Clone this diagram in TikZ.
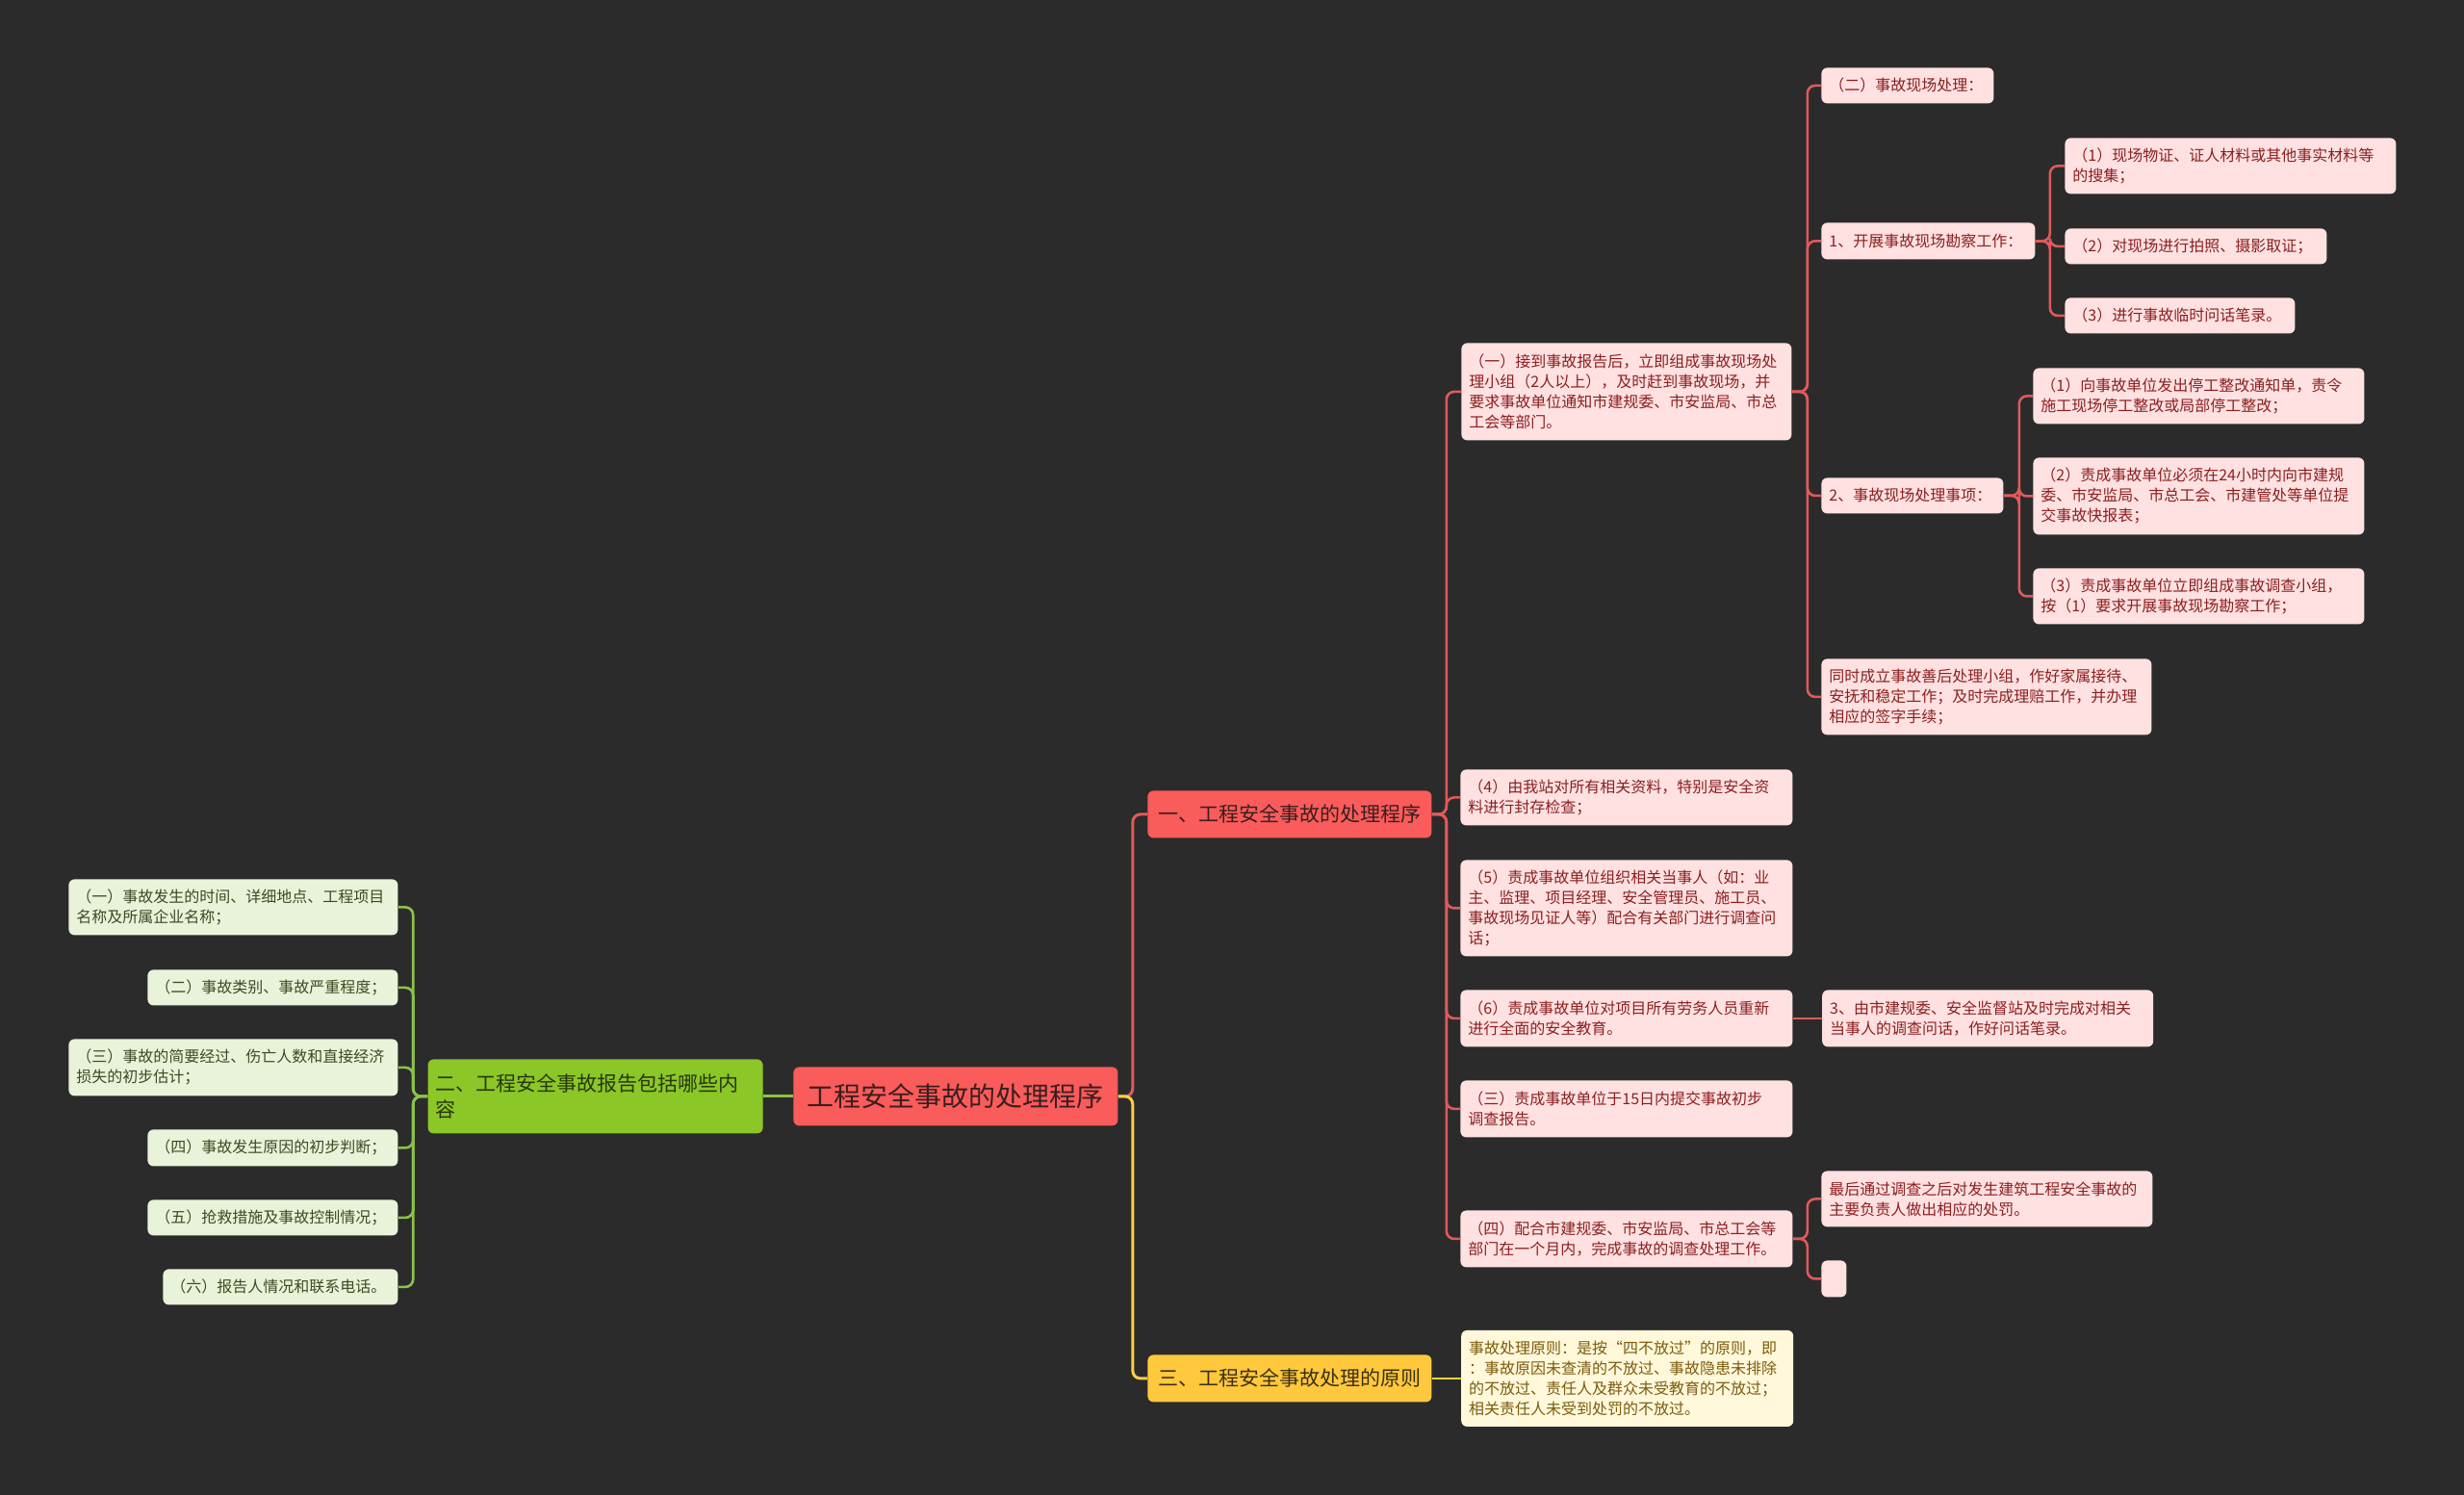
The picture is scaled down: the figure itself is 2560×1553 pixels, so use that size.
\documentclass[tikz,border=0pt]{standalone}
\usepackage{fontspec}
\setmainfont{Noto Sans CJK SC}
\usetikzlibrary{positioning}
\definecolor{bg}{HTML}{2B2B2B}
\definecolor{topred}{HTML}{FA5B5B}
\definecolor{topyellow}{HTML}{FFC83D}
\definecolor{topgreen}{HTML}{8BC727}
\definecolor{redtext}{HTML}{3A1E1E}
\definecolor{yellowtext}{HTML}{3B3012}
\definecolor{greentextdark}{HTML}{27360C}
\definecolor{pinkfill}{HTML}{FFE1E1}
\definecolor{pinktext}{HTML}{8C1F1F}
\definecolor{greenfill}{HTML}{E9F3D9}
\definecolor{greentext}{HTML}{3D4A22}
\definecolor{creamfill}{HTML}{FFF8DA}
\definecolor{creamtext}{HTML}{7D5B0C}
\definecolor{redline}{HTML}{E05A5A}
\definecolor{yellowline}{HTML}{F8CF4A}
\definecolor{greenline}{HTML}{8BC34A}
\begin{document}
\begin{tikzpicture}[x=0.5pt,y=-0.5pt, base/.style={rounded corners=3pt,inner xsep=4pt,inner ysep=2pt,anchor=north west,align=left}, leafr/.style={base,fill=pinkfill,text=pinktext,font=\fontsize{8}{10.5}\selectfont}, leafg/.style={base,fill=greenfill,text=greentext,font=\fontsize{8}{10.5}\selectfont}, leafy/.style={base,fill=creamfill,text=creamtext,font=\fontsize{8}{10.5}\selectfont}, topic/.style={rounded corners=3pt,anchor=north west,font=\fontsize{10.5}{13.5}\selectfont,minimum width=147.5pt,minimum height=24.5pt}, rl/.style={draw=redline,line width=1.3pt,rounded corners=4pt}, yl/.style={draw=yellowline,line width=1.3pt,rounded corners=4pt}, gl/.style={draw=greenline,line width=1.3pt,rounded corners=4pt}]
\fill[bg] (0,0) rectangle (2560,1553);
\useasboundingbox (0,0) rectangle (2560,1553);
\node[rounded corners=3pt,anchor=north west,fill=topred,text=redtext,font=\fontsize{14}{17}\selectfont,minimum width=168.5pt,minimum height=30.5pt] (root) at (824,1108) {工程安全事故的处理程序};
\node[topic,fill=topred,text=redtext] (b1) at (1192,821) {一、工程安全事故的处理程序};
\node[topic,fill=topyellow,text=yellowtext] (b3) at (1192,1407) {三、工程安全事故处理的原则};
\node[base,fill=topgreen,text=greentextdark,font=\fontsize{10.5}{13.5}\selectfont,text width=166pt,minimum height=38.5pt,left=15.5pt of root] (b2) {二、工程安全事故报告包括哪些内\\容};
\node[leafr,text width=163.5pt,minimum height=50.5pt] (a1) at (1518,356) {（一）接到事故报告后，立即组成事故现场处\\理小组（2人以上），及时赶到事故现场，并\\要求事故单位通知市建规委、市安监局、市总\\工会等部门。};
\node[leafr,text width=81.5pt,minimum height=18.5pt] (a11) at (1892,70) {（二）事故现场处理：};
\node[leafr,text width=103pt,minimum height=19pt] (a12) at (1892,231) {1、开展事故现场勘察工作：};
\node[leafr,text width=164pt,minimum height=29pt] (a121) at (2145,143) {（1）现场物证、证人材料或其他事实材料等\\的搜集；};
\node[leafr,text width=128pt,minimum height=18.5pt] (a122) at (2145,237) {（2）对现场进行拍照、摄影取证；};
\node[leafr,text width=111.5pt,minimum height=18.5pt] (a123) at (2145,309) {（3）进行事故临时问话笔录。};
\node[leafr,text width=86.5pt,minimum height=18.5pt] (a13) at (1892,496) {2、事故现场处理事项：};
\node[leafr,text width=164pt,minimum height=29pt] (a131) at (2112,382) {（1）向事故单位发出停工整改通知单，责令\\施工现场停工整改或局部停工整改；};
\node[leafr,text width=164pt,minimum height=40pt] (a132) at (2112,475) {（2）责成事故单位必须在24小时内向市建规\\委、市安监局、市总工会、市建管处等单位提\\交事故快报表；};
\node[leafr,text width=164pt,minimum height=29pt] (a133) at (2112,590) {（3）责成事故单位立即组成事故调查小组，\\按（1）要求开展事故现场勘察工作；};
\node[leafr,text width=163.5pt,minimum height=39.5pt] (a14) at (1892,684) {同时成立事故善后处理小组，作好家属接待、\\安抚和稳定工作；及时完成理赔工作，并办理\\相应的签字手续；};
\node[leafr,text width=164.5pt,minimum height=29pt] (a2) at (1517,799) {（4）由我站对所有相关资料，特别是安全资\\料进行封存检查；};
\node[leafr,text width=164.5pt,minimum height=50pt] (a3) at (1517,893) {（5）责成事故单位组织相关当事人（如：业\\主、监理、项目经理、安全管理员、施工员、\\事故现场见证人等）配合有关部门进行调查问\\话；};
\node[leafr,text width=164.5pt,minimum height=29.5pt] (a4) at (1517,1028) {（6）责成事故单位对项目所有劳务人员重新\\进行全面的安全教育。};
\node[leafr,text width=164pt,minimum height=29.5pt,right=15pt of a4] (a41) {3、由市建规委、安全监督站及时完成对相关\\当事人的调查问话，作好问话笔录。};
\node[leafr,text width=164.5pt,minimum height=29.5pt] (a5) at (1517,1122) {（三）责成事故单位于15日内提交事故初步\\调查报告。};
\node[leafr,text width=164.5pt,minimum height=29.5pt] (a6) at (1517,1257) {（四）配合市建规委、市安监局、市总工会等\\部门在一个月内，完成事故的调查处理工作。};
\node[leafr,text width=164pt,minimum height=29pt] (a61) at (1892,1216) {最后通过调查之后对发生建筑工程安全事故的\\主要负责人做出相应的处罚。};
\node[leafr,text width=5pt,minimum height=19pt] (a62) at (1892,1309) {};
\node[leafy,text width=164.5pt,minimum height=50pt,right=15pt of b3] (y1) {事故处理原则：是按“四不放过”的原则，即\\：事故原因未查清的不放过、事故隐患未排除\\的不放过、责任人及群众未受教育的不放过；\\相关责任人未受到处罚的不放过。};
\node[leafg,text width=163pt,minimum height=29pt] (g1) at (71,913) {（一）事故发生的时间、详细地点、工程项目\\名称及所属企业名称；};
\node[leafg,text width=122pt,minimum height=18.5pt] (g2) at (153,1007) {（二）事故类别、事故严重程度；};
\node[leafg,text width=163pt,minimum height=29.5pt] (g3) at (71,1079) {（三）事故的简要经过、伤亡人数和直接经济\\损失的初步估计；};
\node[leafg,text width=122pt,minimum height=19pt] (g4) at (153,1173) {（四）事故发生原因的初步判断；};
\node[leafg,text width=122pt,minimum height=18.5pt] (g5) at (153,1246) {（五）抢救措施及事故控制情况；};
\node[leafg,text width=114pt,minimum height=18.5pt] (g6) at (169,1318) {（六）报告人情况和联系电话。};
\draw[rl,line width=1.5pt] (root.east) -- ++(15,0) |- (b1.west);
\draw[yl,line width=1.5pt] (root.east) -- ++(15,0) |- (b3.west);
\draw[gl,line width=1.5pt] (root.west) -- (b2.east);
\foreach \n in {a1,a2,a3,a4,a5,a6} \draw[rl] (b1.east) -- ++(15,0) |- (\n.west);
\foreach \n in {a11,a12,a13,a14} \draw[rl] (a1.east) -- ++(16,0) |- (\n.west);
\foreach \n in {a121,a122,a123} \draw[rl] (a12.east) -- ++(15,0) |- (\n.west);
\foreach \n in {a131,a132,a133} \draw[rl] (a13.east) -- ++(16,0) |- (\n.west);
\foreach \n in {a61,a62} \draw[rl] (a6.east) -- ++(15,0) |- (\n.west);
\draw[rl] (a4.east) -- (a41.west);
\draw[yl] (b3.east) -- (y1.west);
\foreach \n in {g1,g2,g3,g4,g5,g6} \draw[gl] (b2.west) -- ++(-15,0) |- (\n.east);
\end{tikzpicture}
\end{document}
